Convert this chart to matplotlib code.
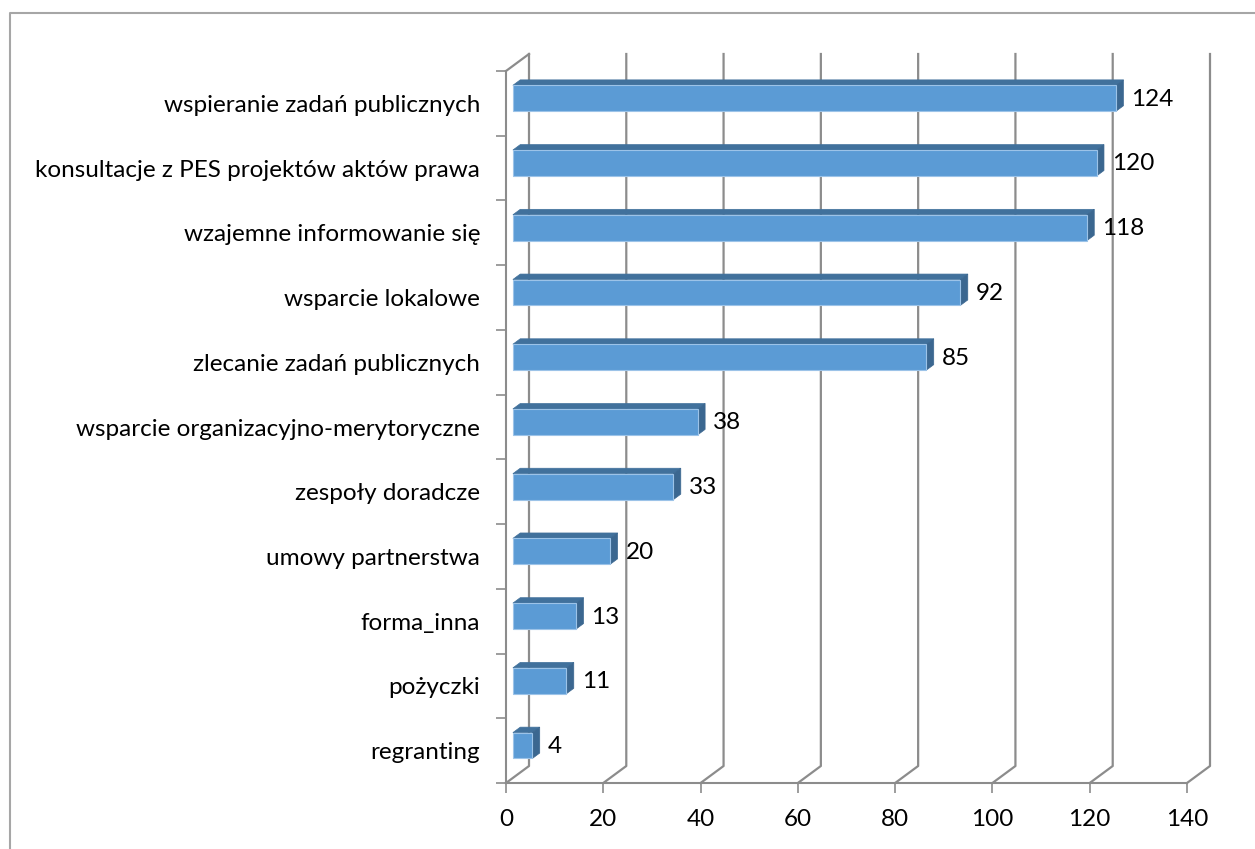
import matplotlib
matplotlib.use("Agg")
import matplotlib.pyplot as plt
from matplotlib.patches import Polygon
from matplotlib.transforms import IdentityTransform
from matplotlib.lines import Line2D

categories = [
    "wspieranie zadań publicznych",
    "konsultacje z PES projektów aktów prawa",
    "wzajemne informowanie się",
    "wsparcie lokalowe",
    "zlecanie zadań publicznych",
    "wsparcie organizacyjno-merytoryczne",
    "zespoły doradcze",
    "umowy partnerstwa",
    "forma_inna",
    "pożyczki",
    "regranting",
]
values = [124, 120, 118, 92, 85, 38, 33, 20, 13, 11, 4]
xticks = [0, 20, 40, 60, 80, 100, 120, 140]

W, H = 1255, 849
DPI = 100
plt.rcParams['font.family'] = ['Lato', 'DejaVu Sans']
FS = 17.5

fig = plt.figure(figsize=(W / DPI, H / DPI), dpi=DPI)
fig.patch.set_facecolor('white')

# front plane in pixels
L, R, T, B = 506, 1187, 71, 783
ax = fig.add_axes([L / W, 1 - B / H, (R - L) / W, (B - T) / H])
n = len(categories)
ax.set_xlim(0, 140)
ax.set_ylim(n - 0.5, -0.5)
ax.set_facecolor('none')
for s in ['top', 'right']:
    ax.spines[s].set_visible(False)
grey = '#8c8c8c'
for s in ['left', 'bottom']:
    ax.spines[s].set_color(grey)
    ax.spines[s].set_linewidth(1.5)

# ticks
ax.set_xticks(xticks)
ax.set_xticklabels([str(t) for t in xticks], fontsize=FS, color='#000000')
ax.tick_params(axis='x', length=7, width=1.2, color=grey, pad=12)
ax.set_yticks(range(n))
ax.set_yticklabels(categories, fontsize=FS, color='#000000')
ax.tick_params(axis='y', which='major', length=0, pad=18.5)
ax.set_yticks([i - 0.5 for i in range(n + 1)], minor=True)
ax.tick_params(axis='y', which='minor', length=7, width=1.2, color=grey)

DX, DY = 23, 17  # wall depth (px)

def disp(x, y, d):
    px, py = ax.transData.transform((x, y))
    return (px + d * DX, py + d * DY)

ident = IdentityTransform()

# back wall gridlines + floor diagonals
for t in xticks:
    x0, y0 = disp(t, n - 0.5, 0)
    x1, y1 = disp(t, n - 0.5, 1)
    x2, y2 = disp(t, -0.5, 1)
    fig.add_artist(Line2D([x0, x1, x2], [y0, y1, y2], transform=ident,
                          color=grey, lw=1.6, zorder=1))
# top diagonal of left wall
x0, y0 = disp(0, -0.5, 0)
x1, y1 = disp(0, -0.5, 1)
fig.add_artist(Line2D([x0, x1], [y0, y1], transform=ident, color=grey, lw=1.6, zorder=1))

# bars
front_c = '#5b9bd5'
top_c = '#41719c'
side_c = '#3b6790'
edge_c = '#9cc3e8'
h = 0.40
d0, d1 = 0.30, 0.62
for i, v in enumerate(values):
    yt, yb = i - h / 2, i + h / 2
    top = [disp(0, yt, d0), disp(v, yt, d0), disp(v, yt, d1), disp(0, yt, d1)]
    fig.add_artist(Polygon(top, closed=True, transform=ident, facecolor=top_c,
                           edgecolor=top_c, lw=0.5, zorder=3))
    side = [disp(v, yt, d0), disp(v, yb, d0), disp(v, yb, d1), disp(v, yt, d1)]
    fig.add_artist(Polygon(side, closed=True, transform=ident, facecolor=side_c,
                           edgecolor=side_c, lw=0.5, zorder=3))
    front = [disp(0, yt, d0), disp(v, yt, d0), disp(v, yb, d0), disp(0, yb, d0)]
    fig.add_artist(Polygon(front, closed=True, transform=ident, facecolor=front_c,
                           edgecolor=edge_c, lw=0.8, zorder=4))
    lx, _ = disp(v, i, d1)
    _, ly = disp(v, i, d0)
    fig.text((lx + 8) / W, (ly - 1) / H, str(v), fontsize=FS, color='#000000',
             ha='left', va='center', zorder=5)

# chart border (left and top visible)
fig.add_artist(Line2D([10 / W, 10 / W, 1.0], [0.0, 1 - 13 / H, 1 - 13 / H],
                      transform=fig.transFigure, color='#a6a6a6', lw=1.5))

fig.savefig('out.png', dpi=DPI, facecolor='white')
